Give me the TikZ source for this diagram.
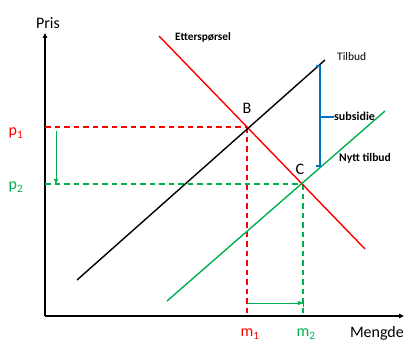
\documentclass[tikz,border=0pt]{standalone}
\usepackage{fontspec}
\setmainfont{Carlito}
\usetikzlibrary{arrows.meta}
\definecolor{myred}{RGB}{255,0,0}
\definecolor{mygreen}{RGB}{0,176,80}
\definecolor{myblue}{RGB}{0,112,192}
\tikzset{
  axisline/.style={line width=1.4pt,-{Triangle[length=5pt,width=4.5pt]}},
  curve/.style={line width=1.4pt},
  dashline/.style={line width=1.2pt,dash pattern=on 5.5pt off 4pt},
  lbl/.style={inner sep=0pt,font=\fontsize{16}{18}\selectfont},
  small/.style={inner sep=0pt,font=\fontsize{11.3}{13}\selectfont\bfseries},
  thinarrow/.style={line width=0.8pt,mygreen,-{Triangle[length=5pt,width=4pt]}},
}
\begin{document}
\begin{tikzpicture}[x=1pt,y=-1pt]
\useasboundingbox (0,0) rectangle (406,342);
% axes
\coordinate (O) at (45,316);
\coordinate (Ytop) at (45,33);
\coordinate (Xend) at (404,316);
\draw[axisline] (O) -- (Ytop);
\draw[axisline] (O) -- (Xend);
\node[lbl,anchor=south] (pris) at (48,29) {Pris};
\node[lbl,anchor=base east] (mengde) at (404,337) {Mengde};
% key points
\coordinate (B) at (247,127);
\coordinate (C) at (303,184);
\coordinate (D1) at (159,36);
\coordinate (D2) at (365,249);
\coordinate (S1) at (77,280);
\coordinate (S2) at (325,60);
\coordinate (N1) at (167,301);
\coordinate (N2) at (385,111);
% dashed guide lines
\coordinate (P1) at (45,127);
\coordinate (P2) at (45,184);
\coordinate (M1) at (247,316);
\coordinate (M2) at (303,316);
\draw[dashline,myred] (P1) -- (B);
\draw[dashline,myred] (B) -- (M1);
\draw[dashline,mygreen] (P2) -- (C);
\draw[dashline,mygreen] (C) -- (M2);
% curves
\draw[curve,myred] (D1) -- (D2);
\draw[curve,black] (S1) -- (S2);
\draw[curve,mygreen] (N1) -- (N2);
% labels
\node[small,anchor=west] (ett) at (175,37) {Etterspørsel};
\node[inner sep=0pt,anchor=west,font=\fontsize{11.5}{13}\selectfont] (tilbud) at (337,57) {Tilbud};
\node[small,anchor=west,font=\fontsize{11.6}{13}\selectfont\bfseries] (nytt) at (339,158) {Nytt tilbud};
\node[lbl] (Blbl) at (247,108) {B};
\node[lbl] (Clbl) at (300,169) {C};
\node[lbl,myred] (p1) at (16,133) {p\textsubscript{1}};
\node[lbl,mygreen] (p2) at (16,187) {p\textsubscript{2}};
\node[lbl,myred] (m1) at (250,334) {m\textsubscript{1}};
\node[lbl,mygreen] (m2) at (306,334) {m\textsubscript{2}};
% subsidy bracket
\coordinate (Ktop) at (320,66);
\coordinate (Kbot) at (320,166);
\coordinate (Kmid) at (320,117);
\draw[myblue,line width=1.8pt] (316,66) -- (Ktop) -- (Kbot) -- (316,166);
\draw[myblue,line width=1.8pt] (Kmid) -- (334,117);
\node[small,anchor=west,font=\fontsize{12}{14}\selectfont\bfseries] (sub) at (334,116) {subsidie};
% shift arrows
\coordinate (a1) at (56,131);
\coordinate (a2) at (56,184);
\draw[thinarrow] (a1) -- (a2);
\coordinate (b1) at (248,303);
\coordinate (b2) at (303,303);
\draw[thinarrow] (b1) -- (b2);
\draw[mygreen,line width=0.8pt] (303,299) -- (303,307);
\end{tikzpicture}
\end{document}
